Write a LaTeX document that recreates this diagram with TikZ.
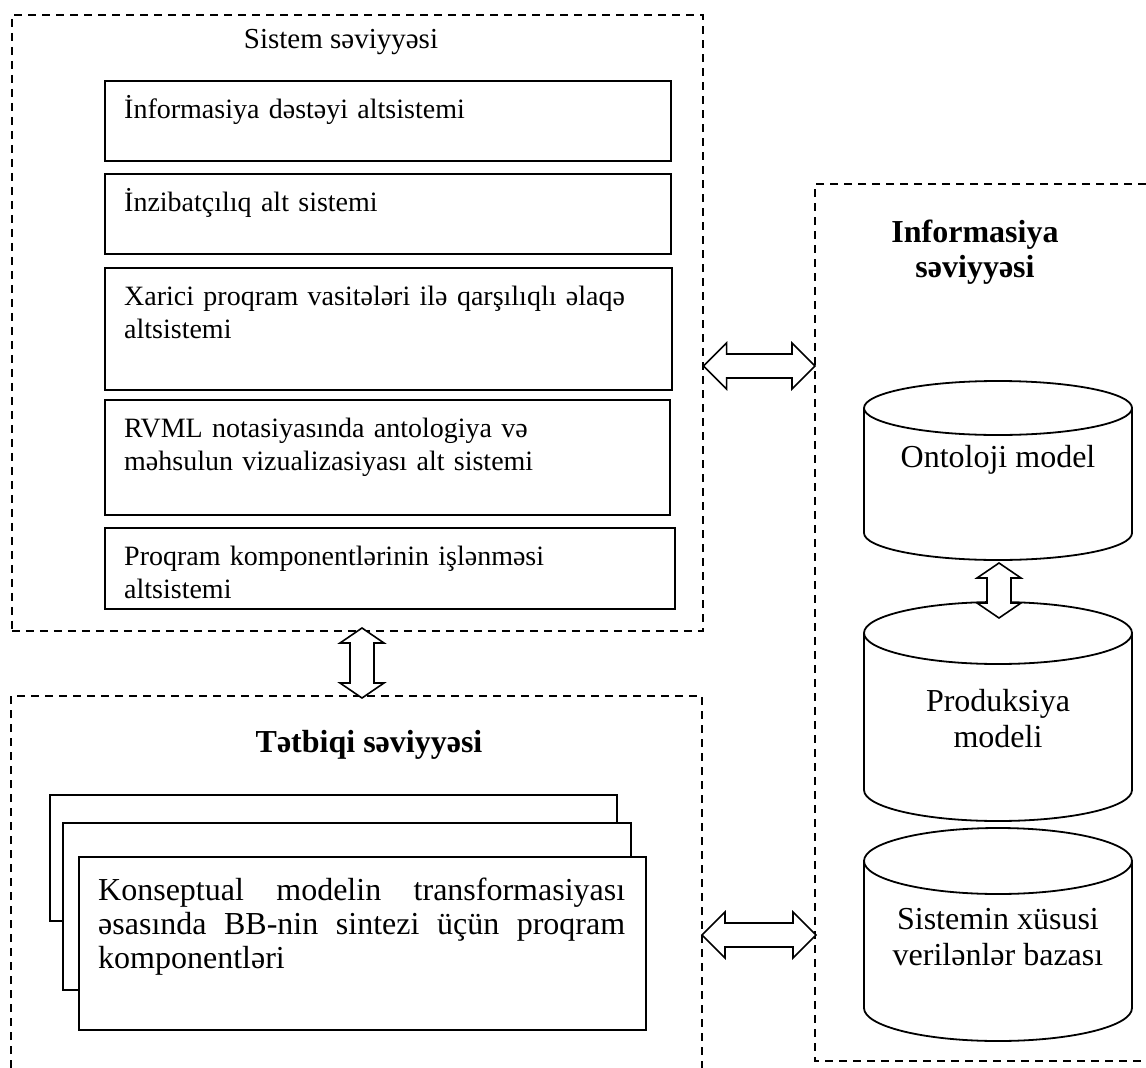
\documentclass[tikz,border=0pt]{standalone}
\usepackage{fontspec}
\setmainfont{Liberation Serif}
\usetikzlibrary{calc}
\begin{document}
\begin{tikzpicture}[x=1pt,y=-1pt,
  dashline/.style={line width=1.6pt, dash pattern=on 8pt off 6pt},
  sbox/.style={draw, line width=1.8pt, inner sep=0pt, anchor=north west, fill=white},
  txt/.style={inner sep=0pt, anchor=north west, align=left, font=\fontsize{28}{33}\selectfont},
  title/.style={inner sep=0pt, align=center, font=\fontsize{32}{36}\selectfont},
  btitle/.style={inner sep=0pt, align=center, font=\fontsize{32}{35}\selectfont\bfseries},
  arrline/.style={draw, line width=1.6pt, fill=white, line join=miter},
  cyl/.style={line width=1.8pt}
]
\useasboundingbox (0,0) rectangle (1146,1068);

% horizontal double arrow: #1 left tip, #2 right tip, #3 head length
\newcommand{\hdarrow}[3]{%
  \draw[arrline] (#1) -- ++(#3,-23) -- ++(0,11) -- ($(#2)+(-#3,-12)$) -- ++(0,-11) -- (#2)
    -- ++(-#3,23) -- ++(0,-11) -- ($(#1)+(#3,12)$) -- ++(0,11) -- cycle;}
% vertical double arrow: #1 top tip, #2 bottom tip, #3 head length
\newcommand{\vdarrow}[3]{%
  \draw[arrline] (#1) -- ++(22,#3) -- ++(-10,0) -- ($(#2)+(12,-#3)$) -- ++(10,0) -- (#2)
    -- ++(-22,-#3) -- ++(10,0) -- ($(#1)+(-12,#3)$) -- ++(-10,0) -- cycle;}

% ---- system level ----
\node[dashline, draw, inner sep=0pt, anchor=north west, minimum width=691pt, minimum height=616pt] (sys) at (11,14) {};
\node[inner sep=0pt, font=\fontsize{29}{33}\selectfont] (systitle) at (341,42) {Sistem səviyyəsi};

\node[sbox, minimum width=566pt, minimum height=80pt] (b1) at (104,80) {};
\node[txt, text width=526pt] (t1) at ([xshift=20pt,yshift=-15pt]b1.north west) {\strut İnformasiya dəstəyi altsistemi};

\node[sbox, minimum width=566pt, minimum height=80pt] (b2) at (104,173) {};
\node[txt, text width=526pt] (t2) at ([xshift=20pt,yshift=-15pt]b2.north west) {\strut İnzibatçılıq alt sistemi};

\node[sbox, minimum width=567pt, minimum height=122pt] (b3) at (104,267) {};
\node[txt, text width=540pt] (t3) at ([xshift=20pt,yshift=-15pt]b3.north west) {\strut Xarici proqram vasitələri ilə qarşılıqlı əlaqə\\altsistemi};

\node[sbox, minimum width=565pt, minimum height=115pt] (b4) at (104,399) {};
\node[txt, text width=526pt] (t4) at ([xshift=20pt,yshift=-15pt]b4.north west) {\strut RVML notasiyasında antologiya və\\məhsulun vizualizasiyası alt sistemi};

\node[sbox, minimum width=570pt, minimum height=81pt] (b5) at (104,527) {};
\node[txt, text width=526pt] (t5) at ([xshift=20pt,yshift=-15pt]b5.north west) {\strut Proqram komponentlərinin işlənməsi\\altsistemi};

% ---- application level ----
\draw[dashline] (11,1068) -- (11,696) -- (702,696) -- (702,1068);
\node[btitle] (apptitle) at (369,745) {Tətbiqi səviyyəsi};

\node[sbox, minimum width=567pt, minimum height=126pt] (k3) at (49,794) {};
\node[sbox, minimum width=568pt, minimum height=167pt] (k2) at (62,822) {};
\node[sbox, minimum width=567pt, minimum height=173pt] (k1) at (78,856) {};
\node[txt, text width=527pt, align=justify, font=\fontsize{32}{34}\selectfont] (kt) at ([xshift=20pt,yshift=-20pt]k1.north west)
  {\strut Konseptual modelin transformasiyası əsasında BB-nin sintezi üçün proqram komponentləri};

% ---- information level ----
\draw[dashline] (1146,184) -- (815,184) -- (815,1061) -- (1146,1061);
\node[btitle] (infotitle) at (975,252) {Informasiya\\səviyyəsi};

% cylinders
\newcommand{\mycyl}[4]{% cx, ytop, ybot, ry
  \draw[cyl] (#1-134,#2) -- (#1-134,#3) arc[start angle=180, end angle=360, x radius=134pt, y radius=#4pt] -- (#1+134,#2);
  \draw[cyl] (#1,#2) ellipse [x radius=134pt, y radius=#4pt];
}
\mycyl{998}{408}{533}{27}
\mycyl{998}{633}{790}{31}
\mycyl{998}{861}{1008}{33}
\node[title] (onto) at (998,460) {Ontoloji model};
\node[title] (prod) at (998,719) {Produksiya\\modeli};
\node[title] (db) at (998,937) {Sistemin xüsusi\\verilənlər bazası};

% ---- double arrows ----
\coordinate (ontobot) at (999,563);
\coordinate (prodtop) at (999,618);
\coordinate (a1l) at (sys.east |- 0,366);
\coordinate (a1r) at (815,366);
\coordinate (a2l) at (702,935);
\coordinate (a2r) at (816,935);
\coordinate (a3t) at (362,628);
\coordinate (a3b) at (362,698);
\hdarrow{a1l}{a1r}{23}
\hdarrow{a2l}{a2r}{23}
\vdarrow{a3t}{a3b}{15}
\vdarrow{ontobot}{prodtop}{15}
\end{tikzpicture}
\end{document}
